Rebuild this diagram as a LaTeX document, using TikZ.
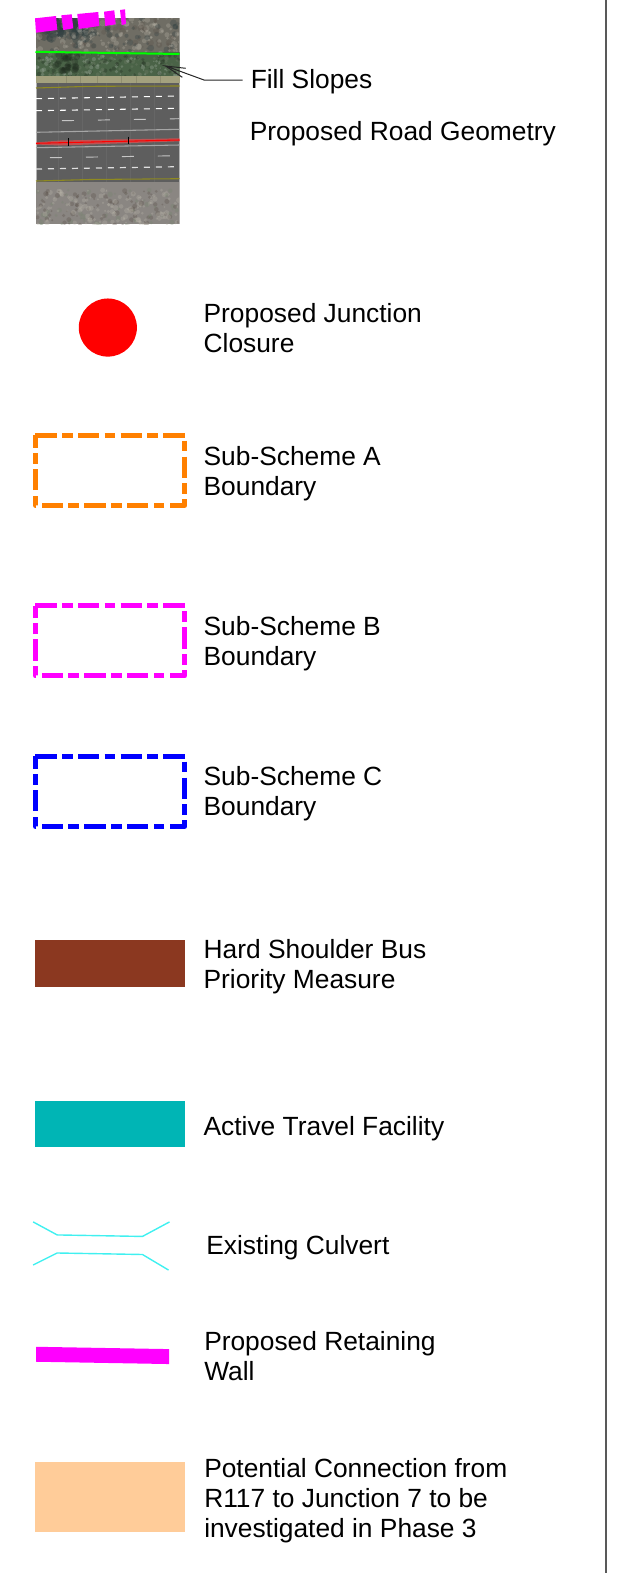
\documentclass[tikz,border=0pt]{standalone}
\usepackage{fontspec}
\setmainfont{Liberation Sans}
\definecolor{orangeb}{HTML}{FF8000}
\definecolor{magb}{HTML}{FF00FF}
\definecolor{blueb}{HTML}{0000FF}
\definecolor{brownb}{HTML}{8B3820}
\definecolor{tealb}{HTML}{00B5B5}
\definecolor{cyanb}{HTML}{40F0F0}
\definecolor{peachb}{HTML}{FFCC99}
\definecolor{roadc}{HTML}{5E5E5E}
\definecolor{vergec}{HTML}{A3A17E}
\definecolor{yelc}{HTML}{8F8A20}
\definecolor{greenv}{HTML}{4A6347}
\definecolor{rockA}{HTML}{6F6D64}
\definecolor{rockB}{HTML}{2F3E40}
\definecolor{rockC}{HTML}{B8B4A8}
\definecolor{rockD}{HTML}{8A8682}
\definecolor{rockE}{HTML}{5A5048}
\tikzset{
 x=0.7524pt,y=-0.7524pt,
 lab/.style={anchor=north west,inner sep=0pt,outer sep=0pt,align=left,font=\fontsize{19.76pt}{22.6pt}\selectfont,text=black},
 dashbox/.style={line width=3.7pt,line join=round,dash pattern=on 16pt off 4pt on 8pt off 4pt},
 lane/.style={draw=white,line width=0.8pt,dash pattern=on 4.5pt off 4.5pt},
 lane dim/.style={draw=white!75!gray,line width=0.9pt,dash pattern=on 4.5pt off 4.5pt},
 thin lane/.style={draw=gray!45,line width=0.7pt,dash pattern=on 9pt off 18pt},
 culv/.style={cyanb,line width=1.05pt},
}
\begin{document}
\begin{tikzpicture}
\useasboundingbox (0,0) rectangle (633,1568);
% aerial image, in the picture's own pixels
\begin{scope}[x=0.75pt,y=-0.75pt]
\begin{scope}
\clip (36,18) rectangle (179.5,76);
\fill[rockA] (36,18) rectangle (179.5,76);
\pgfmathsetseed{11}
\foreach \i in {1,...,40}{
  \pgfmathsetmacro\xx{44+rnd*50}
  \pgfmathsetmacro\yy{16+rnd*24}
  \fill[rockB,opacity=.4] (\xx,\yy) circle (5);
}
\foreach \i in {1,...,260}{
  \pgfmathsetmacro\xx{36+rnd*143}
  \pgfmathsetmacro\yy{18+rnd*36}
  \pgfmathsetmacro\rr{1+rnd*2.5}
  \pgfmathtruncatemacro\k{int(rnd*5)}
  \ifcase\k\def\cc{rockC}\or\def\cc{rockE}\or\def\cc{rockB}\or\def\cc{rockC}\or\def\cc{rockA}\fi
  \fill[\cc,opacity=.3] (\xx,\yy) circle (\rr);
}
\foreach \i in {1,...,40}{
  \pgfmathsetmacro\xx{90+rnd*90}
  \pgfmathsetmacro\yy{18+rnd*34}
  \fill[rockC,opacity=.35] (\xx,\yy) circle (1.4);
}
\fill[greenv] (36,52) rectangle (179.5,76);
\foreach \i in {1,...,240}{
  \pgfmathsetmacro\xx{36+rnd*143}
  \pgfmathsetmacro\yy{53+rnd*23}
  \pgfmathsetmacro\rr{.8+rnd*1.5}
  \pgfmathtruncatemacro\k{int(rnd*3)}
  \ifcase\k\def\cc{greenv!60!white}\or\def\cc{greenv!55!black}\or\def\cc{greenv!70!rockC}\fi
  \fill[\cc,opacity=.4] (\xx,\yy) circle (\rr);
}
\foreach \i in {1,...,22}{
  \pgfmathsetmacro\xx{55+rnd*22}
  \pgfmathsetmacro\yy{54+rnd*20}
  \fill[greenv!45!black,opacity=.35] (\xx,\yy) circle (3.5);
}
\end{scope}
\fill[vergec] (36,76) rectangle (179.5,83);
\foreach \xx in {66,80,97,121,136,160}{\draw[vergec!88!black,line width=.3pt] (\xx,76) -- (\xx,83);}
\fill[roadc] (36,83) rectangle (179.5,182);
\foreach \xx in {58,82,106,130,154}{\draw[roadc!95!white,line width=.4pt] (\xx,83) -- (\xx,182);}
\draw[gray!60!white,line width=.8pt] (179.2,83) -- (179.2,182);
\draw[gray!60!white,line width=.5pt] (36,83) -- (36,182);
\begin{scope}
\clip (36,182) rectangle (179.5,224);
\fill[rockD] (36,182) rectangle (179.5,224);
\foreach \i in {1,...,300}{
  \pgfmathsetmacro\xx{36+rnd*143}
  \pgfmathsetmacro\yy{190+rnd*35}
  \pgfmathsetmacro\rr{.8+rnd*2}
  \pgfmathtruncatemacro\k{int(rnd*4)}
  \ifcase\k\def\cc{rockC}\or\def\cc{rockE}\or\def\cc{rockC}\or\def\cc{greenv!60!rockC}\fi
  \fill[\cc,opacity=.32] (\xx,\yy) circle (\rr);
}
\end{scope}
\draw[yelc,line width=.8pt] (36,88) -- (90,86.3) -- (179.5,86);
\draw[yelc,line width=.8pt] (36,181) -- (90,179.5) -- (179.5,178.7);
\draw[lane] (36,98.7) -- (179.5,96);
\draw[lane] (36,110.7) -- (179.5,108.3);
\draw[thin lane] (62,120.7) -- (179.5,118.7);
\draw[gray!70!white,line width=.8pt] (36,132.3) -- (179.5,129.3);
\fill[red!70!white,opacity=.6] (36,142.5) -- (60,140.5) -- (179.5,138.3) -- (179.5,141.3) -- (60,145.5) -- (36,144.5) -- cycle;
\draw[red,line width=.8pt] (36,143.3) -- (179.5,140);
\draw[gray!70!white,line width=.8pt] (36,147.7) -- (179.5,145);
\draw[black,line width=.9pt] (68.3,138.3) -- (68.3,146);
\draw[black,line width=.9pt] (128.7,136.7) -- (128.7,144.3);
\draw[thin lane] (50,157.7) -- (179.5,155.7);
\draw[lane dim] (36,169) -- (179.5,166.7);
% retaining wall on the image
\fill[magb] (35,18.3) -- (56,16) -- (57.3,30) -- (36,32.7) -- cycle;
\fill[magb] (61.3,15.3) -- (71.7,14.3) -- (73.3,28.3) -- (63.3,30) -- cycle;
\fill[magb] (77.3,14) -- (98.3,12) -- (99.3,26) -- (78.7,29) -- cycle;
\fill[magb] (104,11.7) -- (114.3,10.3) -- (115.7,24.3) -- (105.3,26) -- cycle;
\fill[magb] (120,10) -- (125,9.3) -- (126,24) -- (121.7,25) -- cycle;
\draw[green,line width=1.5pt] (35.5,51.8) -- (179.5,54);
% fill slopes pointer
\coordinate (lineA) at (242.5,80);
\coordinate (bend) at (204,80);
\coordinate (tip) at (165.7,66);
\coordinate (barbA) at (185.7,68.3);
\coordinate (barbB) at (182.3,77.3);
\draw[black!85,line width=.75pt] (lineA) -- (bend) -- (tip) -- (barbA);
\draw[black!85,line width=.75pt] (tip) -- (barbB);
\end{scope}
\node[lab] (fill) at (250,69.5) {Fill Slopes};
\node[lab] (road) at (249,121.5) {Proposed Road Geometry};
% junction closure
\node[circle,fill=red,minimum size=43.6pt,inner sep=0pt] (jc) at (107.5,326.5) {};
\node[lab] (jct) at (203,302.5) {Proposed Junction\\Closure};
% boundaries
\draw[orangeb,dashbox] (35.3,434) -- (184.2,434) -- (184.2,503.8) -- (35.3,503.8) -- cycle;
\node[lab] (a) at (203,444.5) {Sub-Scheme A\\Boundary};
\draw[magb,dashbox] (35.3,604) -- (184.2,604) -- (184.2,673.8) -- (35.3,673.8) -- cycle;
\node[lab] (b) at (203,614.5) {Sub-Scheme B\\Boundary};
\draw[blueb,dashbox] (35.3,754) -- (184.2,754) -- (184.2,823.8) -- (35.3,823.8) -- cycle;
\node[lab] (c) at (203,763.5) {Sub-Scheme C\\Boundary};
\fill[brownb] (35,937) rectangle (184.6,984);
\node[lab] (h) at (203,936.5) {Hard Shoulder Bus\\Priority Measure};
\fill[tealb] (35,1097) rectangle (184.6,1143.7);
\node[lab] (t) at (203,1112.5) {Active Travel Facility};
% culvert
\draw[culv] (33,1218) -- (57,1231) -- (142,1232.5) -- (169,1218);
\draw[culv] (33,1261) -- (57,1249) -- (142,1250.5) -- (168,1266);
\node[lab] (cu) at (205.7,1231.5) {Existing Culvert};
\fill[magb] (36,1342.5) -- (168.7,1344.8) -- (168.7,1359.7) -- (36,1357.4) -- cycle;
\node[lab] (w) at (203.6,1327.5) {Proposed Retaining\\Wall};
\fill[peachb] (35,1457.5) rectangle (184.6,1527.5);
\node[lab] (p) at (203.6,1453.5) {Potential Connection from\\R117 to Junction 7 to be\\investigated in Phase 3};
\draw[gray!70!black,line width=1.5pt] (604,0) -- (604,1568);
\end{tikzpicture}
\end{document}
